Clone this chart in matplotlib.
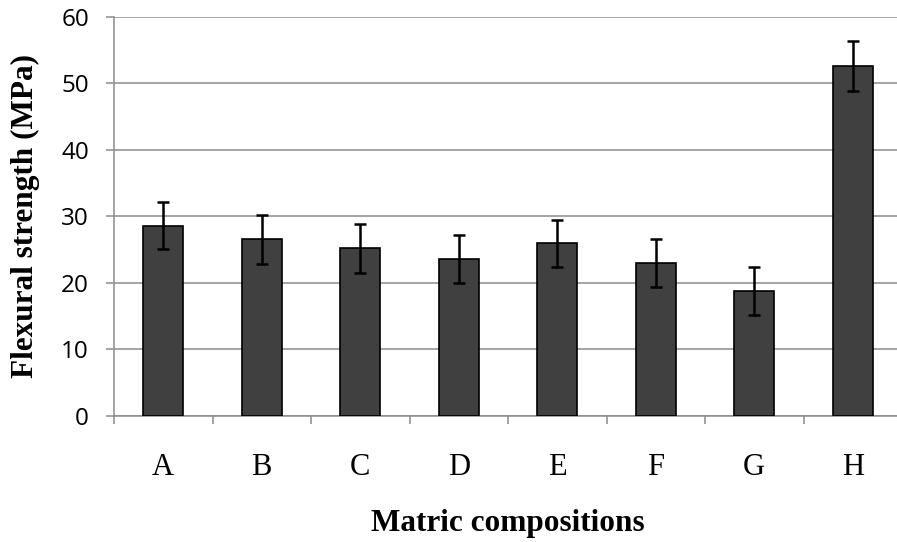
import matplotlib.pyplot as plt
import numpy as np

# Flexural strength per matrix composition
categories = ["A", "B", "C", "D", "E", "F", "G", "H"]
strength = [28.6, 26.5, 25.2, 23.5, 25.9, 23.0, 18.8, 52.6]
errors = [3.6, 3.7, 3.7, 3.6, 3.6, 3.6, 3.6, 3.7]

W, H = 897, 542
fig = plt.figure(figsize=(W / 100, H / 100), dpi=100)

# Axes placed in pixel terms (right end runs slightly past the figure edge)
left, right, top, bottom = 114, 902, 16.7, 415.7
ax = fig.add_axes([left / W, 1 - bottom / H, (right - left) / W, (bottom - top) / H])

x = np.arange(len(categories))
ax.bar(
    x,
    strength,
    width=0.41,
    color="#404040",
    edgecolor="black",
    linewidth=1.2,
    zorder=3,
)
ax.errorbar(
    x,
    strength,
    yerr=errors,
    fmt="none",
    ecolor="black",
    elinewidth=1.8,
    capsize=4.6,
    capthick=1.8,
    zorder=4,
)

grid_color = "#8c8c8c"
ax.set_xlim(-0.5, len(categories) - 0.5)
ax.set_ylim(0, 60)
ax.set_yticks(np.arange(0, 61, 10))
ax.yaxis.grid(True, color=grid_color, linewidth=1.1, zorder=0)
ax.set_axisbelow(True)

for side in ["top", "right"]:
    ax.spines[side].set_visible(False)
for side in ["left", "bottom"]:
    ax.spines[side].set_color(grid_color)
    ax.spines[side].set_linewidth(1.1)

# Category labels centred on bars, tick marks at category boundaries
ax.set_xticks(x)
ax.set_xticklabels(categories, fontfamily="Liberation Serif", fontsize=22)
ax.tick_params(axis="x", which="major", length=0, pad=27)
ax.set_xticks(np.arange(-0.5, len(categories) + 0.5, 1), minor=True)
ax.tick_params(axis="x", which="minor", length=6, width=1.1, color=grid_color)

ax.tick_params(axis="y", length=6, width=1.1, color=grid_color, pad=12, labelsize=17.5)
for lab in ax.get_yticklabels():
    lab.set_fontfamily("Open Sans")

fig.text(508 / W, 1 - 524 / H, "Matric compositions", ha="center", va="center",
         fontfamily="Liberation Serif", fontweight="bold", fontsize=22.5)
fig.text(25 / W, 1 - 216 / H, "Flexural strength (MPa)", ha="center", va="center",
         rotation=90, fontfamily="Liberation Serif", fontweight="bold", fontsize=22.5)

fig.savefig("out.png", dpi=100)
